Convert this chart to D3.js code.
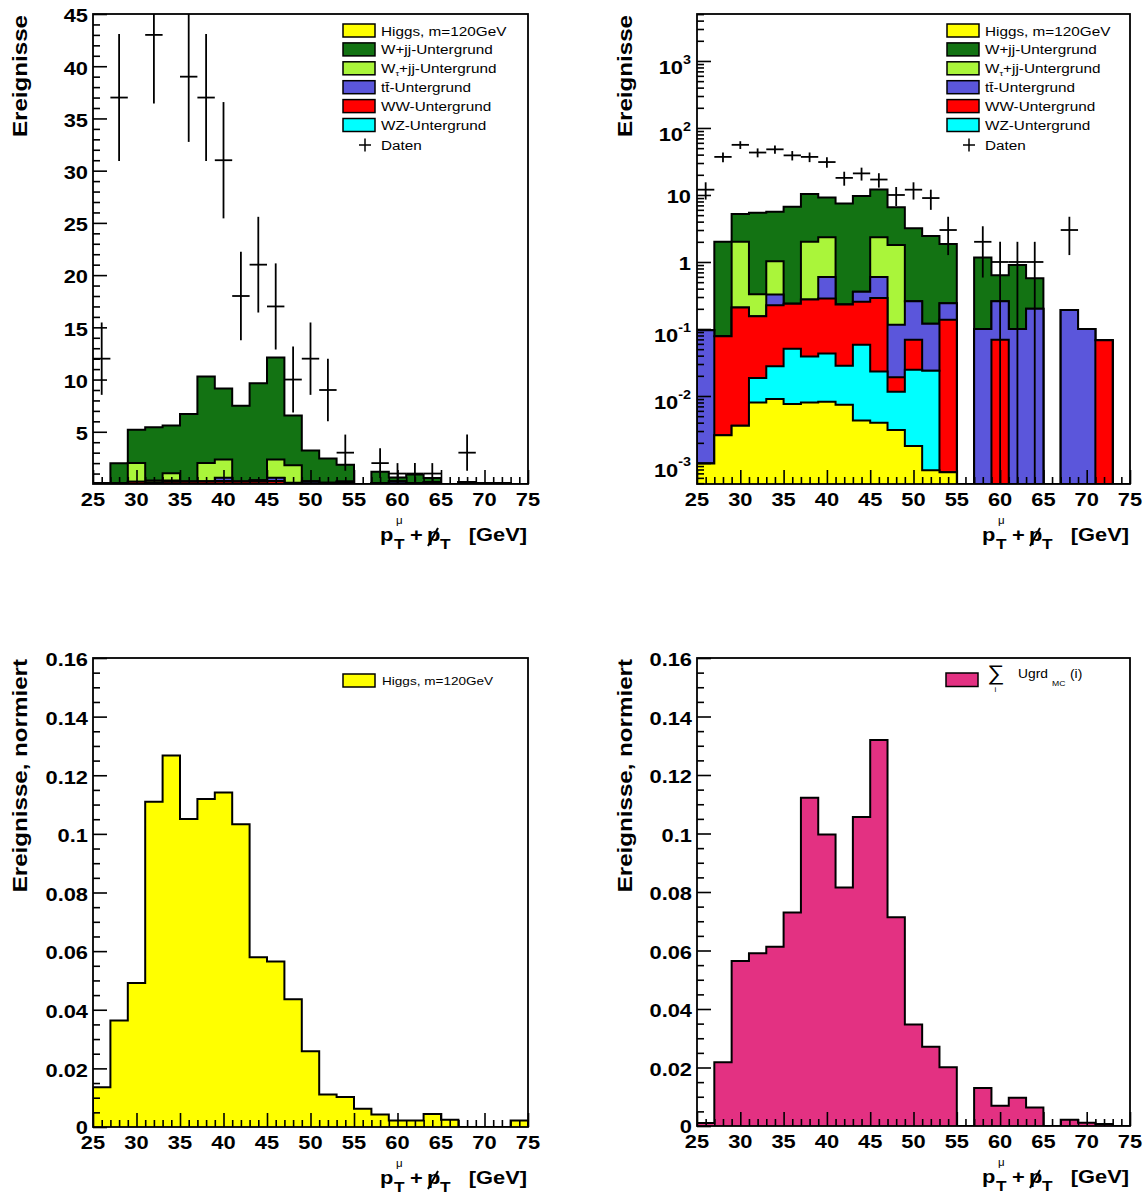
<!DOCTYPE html>
<html><head><meta charset="utf-8">
<script src="https://cdn.jsdelivr.net/npm/d3@7/dist/d3.min.js"></script>
<style>
html,body{margin:0;padding:0;background:#fff;}
svg text{font-family:"Liberation Sans",Arial,Helvetica,sans-serif;}
</style></head>
<body>
<svg id="chart" width="1143" height="1203" xmlns="http://www.w3.org/2000/svg"></svg>
<script>
// ---------------- data ----------------
const binEdges = [25,27,29,31,33,35,37,39,41,43,45,47,49,51,53,55,57,59,61,63,65,67,69,71,73,75];
const daten   = [12,37,56,43,48,39,37,31,18,21,17,10,12,9,3,0,2,1,1,1,0,3,0,0,0];
const higgs   = [0.00098,0.0026,0.0036,0.0080,0.0090,0.0076,0.0080,0.0082,0.0074,0.0043,0.0040,0.0031,0.0018,0.00078,0.00073,0.00046,0.00032,0.00016,0.00016,0.00033,0.00018,0,0,0,0.00016];
const wz      = [0,0,0,0.0105,0.0187,0.0432,0.031,0.0347,0.0209,0.0541,0.0193,0.0085,0.0229,0.0231,0,0,0,0,0,0,0,0,0,0,0];
const ww      = [0,0.075,0.206,0.1365,0.198,0.187,0.236,0.242,0.2037,0.1956,0.2677,0.0074,0.0443,0,0.137,0,0,0.069,0,0,0,0,0,0.068,0];
const ttbar   = [0.095,0,0,0,0.101,0,0,0.311,0,0.105,0.305,0.097,0.191,0.096,0.104,0,0.0997,0.19,0.1,0.2,0,0.192,0.1,0,0];
const wtau    = [0,0,1.79,0.175,0.70,0,1.725,1.744,0,0,1.744,1.684,0,0,0,0,0,0,0,0,0,0,0,0,0];
const wjj     = [0,1.92,3.2,5.1,4.57,6.46,8.3,6.8,7.26,9.29,9.76,4.76,2.94,2.32,1.61,0,1.07,0.375,0.8,0.37,0,0,0,0,0];
const higgsNorm = [0.0136,0.0363,0.0491,0.111,0.1267,0.1051,0.1119,0.1141,0.1033,0.0579,0.0565,0.0436,0.0258,0.0111,0.0102,0.0062,0.0043,0.0022,0.0022,0.0044,0.0025,0,0,0,0.0022];
const bkgNorm   = [0.0010,0.0218,0.0564,0.0591,0.0613,0.0730,0.1122,0.0997,0.0815,0.1056,0.1320,0.0714,0.0347,0.0271,0.0201,0,0.0130,0.0069,0.0097,0.0063,0,0.0021,0.0011,0.0007,0];

const xTickLabels = [25,30,35,40,45,50,55,60,65,70,75];
const yTicksLin   = [5,10,15,20,25,30,35,40,45];
const yTicksNorm  = [0,0.02,0.04,0.06,0.08,0.1,0.12,0.14,0.16];
const yTickNormLabels = ["0","0.02","0.04","0.06","0.08","0.1","0.12","0.14","0.16"];
const logDecades  = [1e-3,1e-2,1e-1,1,10,100,1000];
const logLabels   = [["10","-3"],["10","-2"],["10","-1"],["1",""],["10",""],["10","2"],["10","3"]];
const stackKeys   = ["higgs","wz","ww","tt","wtau","wjj"];
const legendNames = ["Higgs, m=120GeV","W+jj-Untergrund","W|\u03c4|+jj-Untergrund","tt\u0304-Untergrund","WW-Untergrund","WZ-Untergrund","Daten"];
const legendKeys  = ["higgs","wjj","wtau","tt","ww","wz","data"];

// ---------------- styles ----------------
const COLORS = {higgs:"#ffff00", wz:"#00ffff", ww:"#ff0000", tt:"#5b56db", wtau:"#aaf53a", wjj:"#137313", bkg:"#e33182"};
const SX = 1.15;
const svg = d3.select("#chart");
const PANELS = {
  tl:{x0:93, x1:528, y0:14,  y1:484},
  tr:{x0:697,x1:1130,y0:14,  y1:484},
  bl:{x0:93, x1:528, y0:658, y1:1127},
  br:{x0:697,x1:1130,y0:658, y1:1126}
};

function stext(parent, x, y, str, o={}) {
  return parent.append("text")
    .attr("transform", `translate(${x},${y})${o.rot!==undefined?` rotate(${o.rot})`:""} scale(${SX},1)`)
    .attr("text-anchor", o.anchor||"start")
    .style("font-size", (o.size||19)+"px")
    .style("font-weight", o.bold===false?"normal":"bold")
    .attr("fill","#000")
    .text(str);
}

const rows = binEdges.slice(0,-1).map((lo,i)=>({lo, hi:binEdges[i+1],
  higgs:higgs[i], wz:wz[i], ww:ww[i], tt:ttbar[i], wtau:wtau[i], wjj:wjj[i]}));
const stacked = d3.stack().keys(stackKeys)(rows);

function stepPath(vals, x, yf, base) {
  const pts = [[x(binEdges[0]), base]];
  vals.forEach((v,i)=>{ const yy = yf(v); pts.push([x(binEdges[i]), yy],[x(binEdges[i+1]), yy]); });
  pts.push([x(binEdges[binEdges.length-1]), base]);
  return d3.line()(pts);
}

let clipN = 0;
function makeClip(p) {
  const id = "clip"+(clipN++);
  svg.append("clipPath").attr("id",id).append("rect")
    .attr("x",p.x0).attr("y",p.y0).attr("width",p.x1-p.x0).attr("height",p.y1-p.y0);
  return id;
}

function tickGroup(transform, axis) {
  const g = svg.append("g").attr("transform",transform);
  g.call(axis);
  g.selectAll(".domain").remove();
  g.selectAll("line").attr("stroke","#000").attr("stroke-width",1.6);
  return g;
}

function xAxis(p, x) {
  const minor = d3.range(25,76,1).filter(v=>v%5!==0);
  tickGroup(`translate(0,${p.y1})`, d3.axisBottom(x).tickValues(minor).tickSizeInner(-7).tickSizeOuter(0).tickFormat(""));
  tickGroup(`translate(0,${p.y1})`, d3.axisBottom(x).tickValues(xTickLabels).tickSizeInner(-14).tickSizeOuter(0).tickFormat(""));
  xTickLabels.forEach(v=> stext(svg, x(v), p.y1+22, String(v), {anchor:"middle", size:19}));
}

function yAxisLinear(p, y, major, minor, labels) {
  tickGroup(`translate(${p.x0},0)`, d3.axisLeft(y).tickValues(minor).tickSizeInner(-7).tickSizeOuter(0).tickFormat(""));
  tickGroup(`translate(${p.x0},0)`, d3.axisLeft(y).tickValues(major).tickSizeInner(-14).tickSizeOuter(0).tickFormat(""));
  major.forEach((v,i)=> stext(svg, p.x0-5, y(v)+(v===0?7:8.3), labels[i], {anchor:"end", size:19}));
}

function frame(p) {
  svg.append("rect").attr("x",p.x0).attr("y",p.y0).attr("width",p.x1-p.x0).attr("height",p.y1-p.y0)
    .attr("fill","none").attr("stroke","#000").attr("stroke-width",1.8);
}

function xTitle(p) {
  const R = p.x1 - 1, B = p.y1 + 57;
  const g = svg.append("g");
  stext(g, R-147, B, "p", {size:19});
  stext(g, R-131, B-17, "\u03bc", {size:10, bold:false});
  stext(g, R-133, B+8, "T", {size:15});
  stext(g, R-117, B, "+", {size:19});
  stext(g, R-100, B, "p", {size:19});
  g.append("line").attr("x1",R-99).attr("y1",B+5).attr("x2",R-89).attr("y2",B-13)
    .attr("stroke","#000").attr("stroke-width",2);
  stext(g, R-87, B+8, "T", {size:15});
  stext(g, R, B, "[GeV]", {size:19, anchor:"end"});
}

function yTitle(p, str, bx) {
  stext(svg, bx, p.y0+1, str, {rot:-90, anchor:"end", size:21});
}

function drawData(p, x, yf, clipId, maxV) {
  const g = svg.append("g").attr("clip-path",`url(#${clipId})`);
  daten.forEach((n,i)=>{
    if (n<=0 || n>maxV) return;
    const e = Math.sqrt(n);
    const xc = x((binEdges[i]+binEdges[i+1])/2);
    g.append("line").attr("x1",xc).attr("x2",xc).attr("y1",yf(n-e)).attr("y2",yf(n+e))
      .attr("stroke","#000").attr("stroke-width",1.8);
    g.append("line").attr("x1",x(binEdges[i])).attr("x2",x(binEdges[i+1])).attr("y1",yf(n)).attr("y2",yf(n))
      .attr("stroke","#000").attr("stroke-width",1.8);
  });
}

function drawStack(p, x, yf, clipId) {
  const g = svg.append("g").attr("clip-path",`url(#${clipId})`);
  for (let k = stacked.length-1; k>=0; k--) {
    const s = stacked[k];
    const vals = s.map(d=>d[1]);
    g.append("path").attr("d", stepPath(vals, x, yf, p.y1))
      .attr("fill", COLORS[s.key]).attr("stroke","#000").attr("stroke-width",2).attr("stroke-linejoin","miter");
  }
}

function stackLegend(p) {
  const dx = p.x0 - 93;
  const rowsY = [30.5,49.4,68.3,87.2,106.1,125,145];
  legendKeys.forEach((k,i)=>{
    const cy = rowsY[i];
    if (k==="data") {
      svg.append("line").attr("x1",359+dx).attr("x2",371+dx).attr("y1",cy).attr("y2",cy).attr("stroke","#000").attr("stroke-width",1.5);
      svg.append("line").attr("x1",365+dx).attr("x2",365+dx).attr("y1",cy-6.5).attr("y2",cy+6.5).attr("stroke","#000").attr("stroke-width",1.5);
    } else {
      svg.append("rect").attr("x",343+dx).attr("y",cy-6.5).attr("width",32).attr("height",13)
        .attr("fill",COLORS[k]).attr("stroke","#000").attr("stroke-width",1.5);
    }
    const name = legendNames[i];
    if (name.includes("|")) {
      const parts = name.split("|");
      const t = stext(svg, 381+dx, cy+5, "", {size:13.3, bold:false});
      t.append("tspan").text(parts[0]);
      t.append("tspan").attr("dy",3).style("font-size","8px").text(parts[1]);
      t.append("tspan").attr("dy",-3).text(parts[2]);
    } else {
      stext(svg, 381+dx, cy+5, name, {size:13.3, bold:false});
    }
  });
}

// ---------------- Panel TL: linear stack ----------------
{
  const p = PANELS.tl;
  const x = d3.scaleLinear().domain([25,75]).range([p.x0,p.x1]);
  const y = d3.scaleLinear().domain([0,45]).range([p.y1,p.y0]).clamp(true);
  const clip = makeClip(p);
  drawStack(p, x, v=>y(v), clip);
  drawData(p, x, v=>y(Math.max(v,0)), clip, 45);
  yAxisLinear(p, y, yTicksLin, d3.range(1,46,1).filter(v=>v%5!==0), yTicksLin.map(String));
  xAxis(p, x);
  frame(p);
  stackLegend(p);
  yTitle(p, "Ereignisse", 27);
  xTitle(p);
}
// ---------------- Panel TR: log stack ----------------
{
  const p = PANELS.tr;
  const x = d3.scaleLinear().domain([25,75]).range([p.x0,p.x1]);
  const ymin = 4.86e-4, ymax = 5023;
  const y = d3.scaleLog().domain([ymin,ymax]).range([p.y1,p.y0]).clamp(true);
  const yf = v => (v<=ymin ? p.y1 : y(v));
  const clip = makeClip(p);
  drawStack(p, x, yf, clip);
  drawData(p, x, yf, clip, ymax);
  const minor = [];
  for (let e=-4;e<=3;e++) for (let k=2;k<=9;k++){ const v=k*Math.pow(10,e); if(v>ymin && v<ymax) minor.push(v); }
  tickGroup(`translate(${p.x0},0)`, d3.axisLeft(y).tickValues(minor).tickSizeInner(-7).tickSizeOuter(0).tickFormat(""));
  tickGroup(`translate(${p.x0},0)`, d3.axisLeft(y).tickValues(logDecades).tickSizeInner(-14).tickSizeOuter(0).tickFormat(""));
  logDecades.forEach((v,i)=>{
    const [b,sup] = logLabels[i];
    const ty = y(v);
    if (sup) {
      const t = stext(svg, p.x0-6, ty+13.5, "", {anchor:"end", size:19});
      t.append("tspan").text(b);
      t.append("tspan").attr("dy",-10.5).style("font-size","12.5px").text(sup);
    } else {
      stext(svg, p.x0-6, ty+8.5, b, {anchor:"end", size:19});
    }
  });
  xAxis(p, x);
  frame(p);
  stackLegend(p);
  yTitle(p, "Ereignisse", 632);
  xTitle(p);
}
// ---------------- Panel BL: Higgs normalised ----------------
{
  const p = PANELS.bl;
  const x = d3.scaleLinear().domain([25,75]).range([p.x0,p.x1]);
  const y = d3.scaleLinear().domain([0,0.16]).range([p.y1,p.y0]).clamp(true);
  const clip = makeClip(p);
  svg.append("g").attr("clip-path",`url(#${clip})`).append("path")
    .attr("d", stepPath(higgsNorm, x, v=>y(v), p.y1))
    .attr("fill", COLORS.higgs).attr("stroke","#000").attr("stroke-width",2);
  yAxisLinear(p, y, yTicksNorm, d3.range(0,0.1601,0.005).filter((v,i)=>i%4!==0), yTickNormLabels);
  xAxis(p, x);
  frame(p);
  svg.append("rect").attr("x",343).attr("y",674).attr("width",32).attr("height",13)
    .attr("fill",COLORS.higgs).attr("stroke","#000").attr("stroke-width",1.5);
  stext(svg, 382, 685, "Higgs, m=120GeV", {size:11.8, bold:false});
  yTitle(p, "Ereignisse, normiert", 27);
  xTitle(p);
}
// ---------------- Panel BR: background normalised ----------------
{
  const p = PANELS.br;
  const x = d3.scaleLinear().domain([25,75]).range([p.x0,p.x1]);
  const y = d3.scaleLinear().domain([0,0.16]).range([p.y1,p.y0]).clamp(true);
  const clip = makeClip(p);
  svg.append("g").attr("clip-path",`url(#${clip})`).append("path")
    .attr("d", stepPath(bkgNorm, x, v=>y(v), p.y1))
    .attr("fill", COLORS.bkg).attr("stroke","#000").attr("stroke-width",2);
  yAxisLinear(p, y, yTicksNorm, d3.range(0,0.1601,0.005).filter((v,i)=>i%4!==0), yTickNormLabels);
  xAxis(p, x);
  frame(p);
  svg.append("rect").attr("x",946).attr("y",673).attr("width",32).attr("height",13.5)
    .attr("fill",COLORS.bkg).attr("stroke","#000").attr("stroke-width",1.5);
  stext(svg, 987, 680, "\u2211", {size:21, bold:false});
  stext(svg, 994.5, 692, "i", {size:7, bold:false});
  stext(svg, 1018, 678, "Ugrd", {size:12, bold:false});
  stext(svg, 1052, 686, "MC", {size:7.5, bold:false});
  stext(svg, 1070, 678, "(i)", {size:12, bold:false});
  yTitle(p, "Ereignisse, normiert", 632);
  xTitle(p);
}
</script>
</body></html>
